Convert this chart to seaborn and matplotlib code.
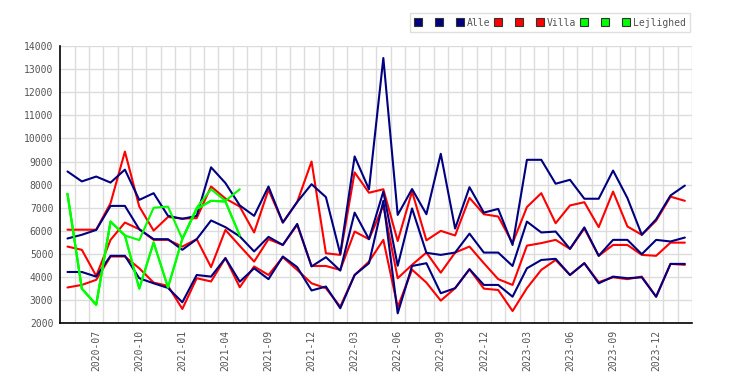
import numpy as np
import pandas as pd
import matplotlib
matplotlib.use('Agg')
import matplotlib.pyplot as plt
from matplotlib.lines import Line2D
import seaborn as sns

# Months on the x axis (some months are missing in the source)
months = (['2020-%02d' % m for m in range(5, 13)]
          + ['2021-%02d' % m for m in range(1, 6)]
          + ['2021-08']
          + ['2021-%02d' % m for m in range(9, 13)]
          + ['2022-%02d' % m for m in range(1, 13)]
          + ['2023-%02d' % m for m in range(1, 13)]
          + ['2024-01', '2024-02'])

# Alle (navy)
alle_high = [8570, 8140, 8350, 8090, 8650, 7340, 7630, 6650, 6520, 6650, 8750, 8070,
             7100, 6650, 7920, 6360, 7250, 8020, 7460, 5000, 9220, 7800, 13480, 6690,
             7810, 6720, 9335, 6100, 7890, 6790, 6950, 5390, 9075, 9075, 8040, 8210,
             7390, 7390, 8610, 7420, 5830, 6500, 7530, 7960]
alle_mid = [5670, 5830, 6040, 7080, 7080, 6070, 5640, 5640, 5180, 5640, 6450, 6160,
            5760, 5110, 5740, 5390, 6300, 4460, 4860, 4280, 6790, 5640, 7700, 4490,
            6970, 5050, 4960, 5060, 5880, 5060, 5060, 4480, 6400, 5930, 5970, 5220,
            6150, 4920, 5610, 5610, 4990, 5610, 5540, 5710]
alle_low = [4220, 4220, 4020, 4920, 4920, 3950, 3730, 3530, 2910, 4090, 4020, 4820,
            3800, 4380, 3910, 4890, 4430, 3420, 3590, 2650, 4090, 4600, 7300, 2430,
            4480, 4600, 3300, 3520, 4340, 3660, 3660, 3150, 4380, 4740, 4790, 4090,
            4600, 3730, 4020, 3950, 3990, 3150, 4570, 4570]

# Villa (red)
villa_high = [6050, 6050, 6050, 7200, 9430, 7050, 6010, 6600, 6530, 6550, 7920, 7400,
              7050, 5930, 7780, 6360, 7250, 9000, 5030, 4960, 8530, 7650, 7800, 5560,
              7700, 5590, 6000, 5800, 7430, 6720, 6620, 5470, 7030, 7630, 6330, 7100,
              7240, 6160, 7700, 6190, 5830, 6440, 7480, 7300]
villa_mid = [5320, 5180, 4050, 5610, 6360, 6070, 5610, 5610, 5320, 5640, 4430, 6040,
             5350, 4670, 5640, 5390, 6260, 4480, 4480, 4310, 5970, 5640, 7100, 3950,
             4530, 5060, 4190, 5060, 5320, 4600, 3910, 3660, 5360, 5470, 5610, 5220,
             6100, 4920, 5390, 5390, 4960, 4920, 5490, 5490]
villa_low = [3550, 3660, 3880, 4890, 4890, 4380, 3760, 3620, 2620, 3950, 3810, 4820,
             3560, 4460, 4090, 4860, 4310, 3730, 3520, 2720, 4090, 4670, 5610, 2700,
             4320, 3760, 2980, 3520, 4340, 3500, 3440, 2530, 3520, 4310, 4740, 4090,
             4600, 3780, 3990, 3910, 4020, 3150, 4570, 4530]

# Lejlighed (green), only the first months
lejl_high = [7600, 3500, 2800, 6400, 5800, 5600, 7000, 7050, 5650, 7000, 7800, 7300, 7800]
lejl_mid = [7600, 3500, 2800, 6400, 5800, 3500, 5500, 3550, 5650, 6950, 7300, 7270, 5800]
lejl_low = [7600, 3500, 2800, 6400, 5800, 3500, 5500, 3550, 5650, 6950, 7300, 7270, 5800]

groups = ['Alle', 'Villa', 'Lejlighed']
colors = {'Alle': '#000080', 'Villa': '#ff0000', 'Lejlighed': '#00ff00'}
series = {
    'Alle': [alle_high, alle_mid, alle_low],
    'Villa': [villa_high, villa_mid, villa_low],
    'Lejlighed': [lejl_high, lejl_mid, lejl_low],
}

# Long table for seaborn
rows = []
for g in groups:
    for k, vals in enumerate(series[g]):
        for i, v in enumerate(vals):
            rows.append({'idx': i, 'value': v, 'line': '%s_%d' % (g, k), 'group': g})
df = pd.DataFrame(rows)

sns.set_style('white')
plt.rcParams['font.family'] = ['DejaVu Sans Mono']

fig = plt.figure(figsize=(7.5, 3.85), dpi=100)
ax = fig.add_axes([0.0804, 0.1603, 0.8423, 0.7202])

# Draw red first, then navy, green on top
zorders = {'Villa': 2, 'Alle': 3, 'Lejlighed': 4}
for g in ['Villa', 'Alle', 'Lejlighed']:
    sub = df[df['group'] == g]
    pal = {name: colors[g] for name in sub['line'].unique()}
    sns.lineplot(data=sub, x='idx', y='value', hue='line', palette=pal,
                 linewidth=1.5, legend=False, ax=ax, zorder=zorders[g])

# Axes limits and ticks
ax.set_xlim(-0.5, len(months) - 0.5)
ax.set_ylim(2000, 14000)
ax.set_yticks(np.arange(2000, 14001, 1000))
ax.set_yticklabels([str(v) for v in range(2000, 14001, 1000)])
tick_idx = list(range(2, len(months), 3))
ax.set_xticks(tick_idx)
ax.set_xticklabels([months[i] for i in tick_idx], rotation=90)
ax.set_xticks(np.arange(0.5, len(months), 1), minor=True)
ax.tick_params(axis='both', which='both', length=0, labelsize=7, colors='#555555', pad=5)
ax.set_xlabel('')
ax.set_ylabel('')

# Grid
ax.grid(False)
ax.grid(True, axis='y', which='major', color='#dcdcdc', linewidth=1)
ax.grid(True, axis='x', which='minor', color='#dcdcdc', linewidth=1)
ax.set_axisbelow(True)
for s in ['top', 'right']:
    ax.spines[s].set_visible(False)
for s in ['left', 'bottom']:
    ax.spines[s].set_color('black')
    ax.spines[s].set_linewidth(1.2)

# Legend: three squares per group, name after the last one
handles = []
labels = []
for g in groups:
    for k in range(3):
        handles.append(Line2D([], [], linestyle='', marker='s', markersize=5.5,
                              markerfacecolor=colors[g], markeredgecolor='#333333',
                              markeredgewidth=0.8))
        labels.append(g if k == 2 else ' ')
leg = fig.legend(handles, labels, ncol=9, loc='upper right',
                 bbox_to_anchor=(0.927, 0.978), fontsize=7, frameon=True,
                 handlelength=0.8, handletextpad=0.32, columnspacing=0.42,
                 borderpad=0.45, fancybox=False)
leg.get_frame().set_edgecolor('#d8d8d8')
leg.get_frame().set_linewidth(1)
for t in leg.get_texts():
    t.set_color('#555555')

fig.savefig('out.png', dpi=100)
